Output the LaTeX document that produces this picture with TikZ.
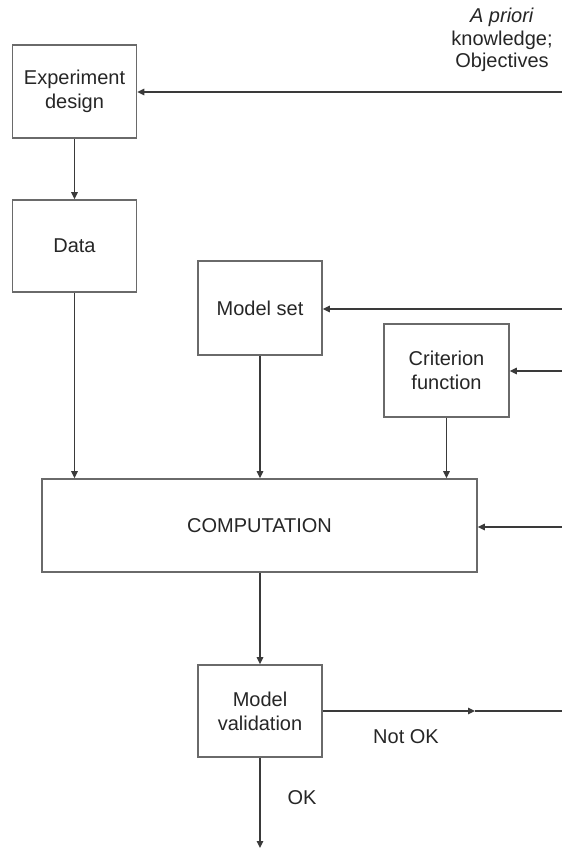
\documentclass[tikz,border=0pt]{standalone}
\usepackage{fontspec}
\setmainfont{Liberation Sans}
\usetikzlibrary{arrows.meta}
\definecolor{boxc}{HTML}{6A6A6A}
\definecolor{linec}{HTML}{3A3A3A}
\definecolor{txt}{HTML}{262626}
\begin{document}
\begin{tikzpicture}[x=1pt,y=-1pt,
  blk/.style={draw=boxc,line width=1.6pt,fill=white,align=center,text=txt,
    font=\fontsize{20}{24}\selectfont,inner sep=0pt},
  conn/.style={draw=linec,line width=1.3pt},
  arr/.style={conn,-{Triangle[length=7pt,width=6.5pt]}},
  lbl/.style={text=txt,font=\fontsize{20}{22.5}\selectfont,align=center,inner sep=0pt}]
\useasboundingbox (0,0) rectangle (562,849);
\node[blk,minimum width=124pt,minimum height=93pt] (exp) at (74.5,91.5) {Experiment\\design};
\node[blk,minimum width=124pt,minimum height=92pt] (data) at (74.5,246) {Data};
\node[blk,minimum width=124pt,minimum height=94pt] (mset) at (260,308) {Model set};
\node[blk,minimum width=125pt,minimum height=93pt] (crit) at (446.5,370.5) {Criterion\\function};
\node[blk,minimum width=435pt,minimum height=93pt] (comp) at (259.5,525.5) {COMPUTATION};
\node[blk,minimum width=124pt,minimum height=92pt] (val) at (260,711) {Model\\validation};
\node[lbl] (apr) at (502,40) {\textit{A priori}\\knowledge;\\Objectives};
\node[lbl] (nok) at (406,737) {Not OK};
\node[lbl] (ok) at (302,798) {OK};
\coordinate (r1) at (562,92);
\coordinate (r2) at (562,309);
\coordinate (r3) at (562,371);
\coordinate (r4) at (562,527);
\coordinate (r5) at (562,711);
\coordinate (nm) at (475,711);
\coordinate (out) at (260,848);
\draw[arr] (r1) -- (exp.east |- r1);
\draw[arr] (exp) -- (data);
\draw[arr] (data.south) -- (data.south |- comp.north);
\draw[arr] (mset.south) -- (mset.south |- comp.north);
\draw[arr] (crit.south) -- (crit.south |- comp.north);
\draw[arr] (r2) -- (mset.east |- r2);
\draw[arr] (r3) -- (crit.east |- r3);
\draw[arr] (r4) -- (comp.east |- r4);
\draw[arr] (comp.south -| val.north) -- (val.north);
\draw[arr] (val.east) -- (nm);
\draw[conn] (nm) -- (r5);
\draw[arr] (val.south) -- (out);
\end{tikzpicture}
\end{document}
